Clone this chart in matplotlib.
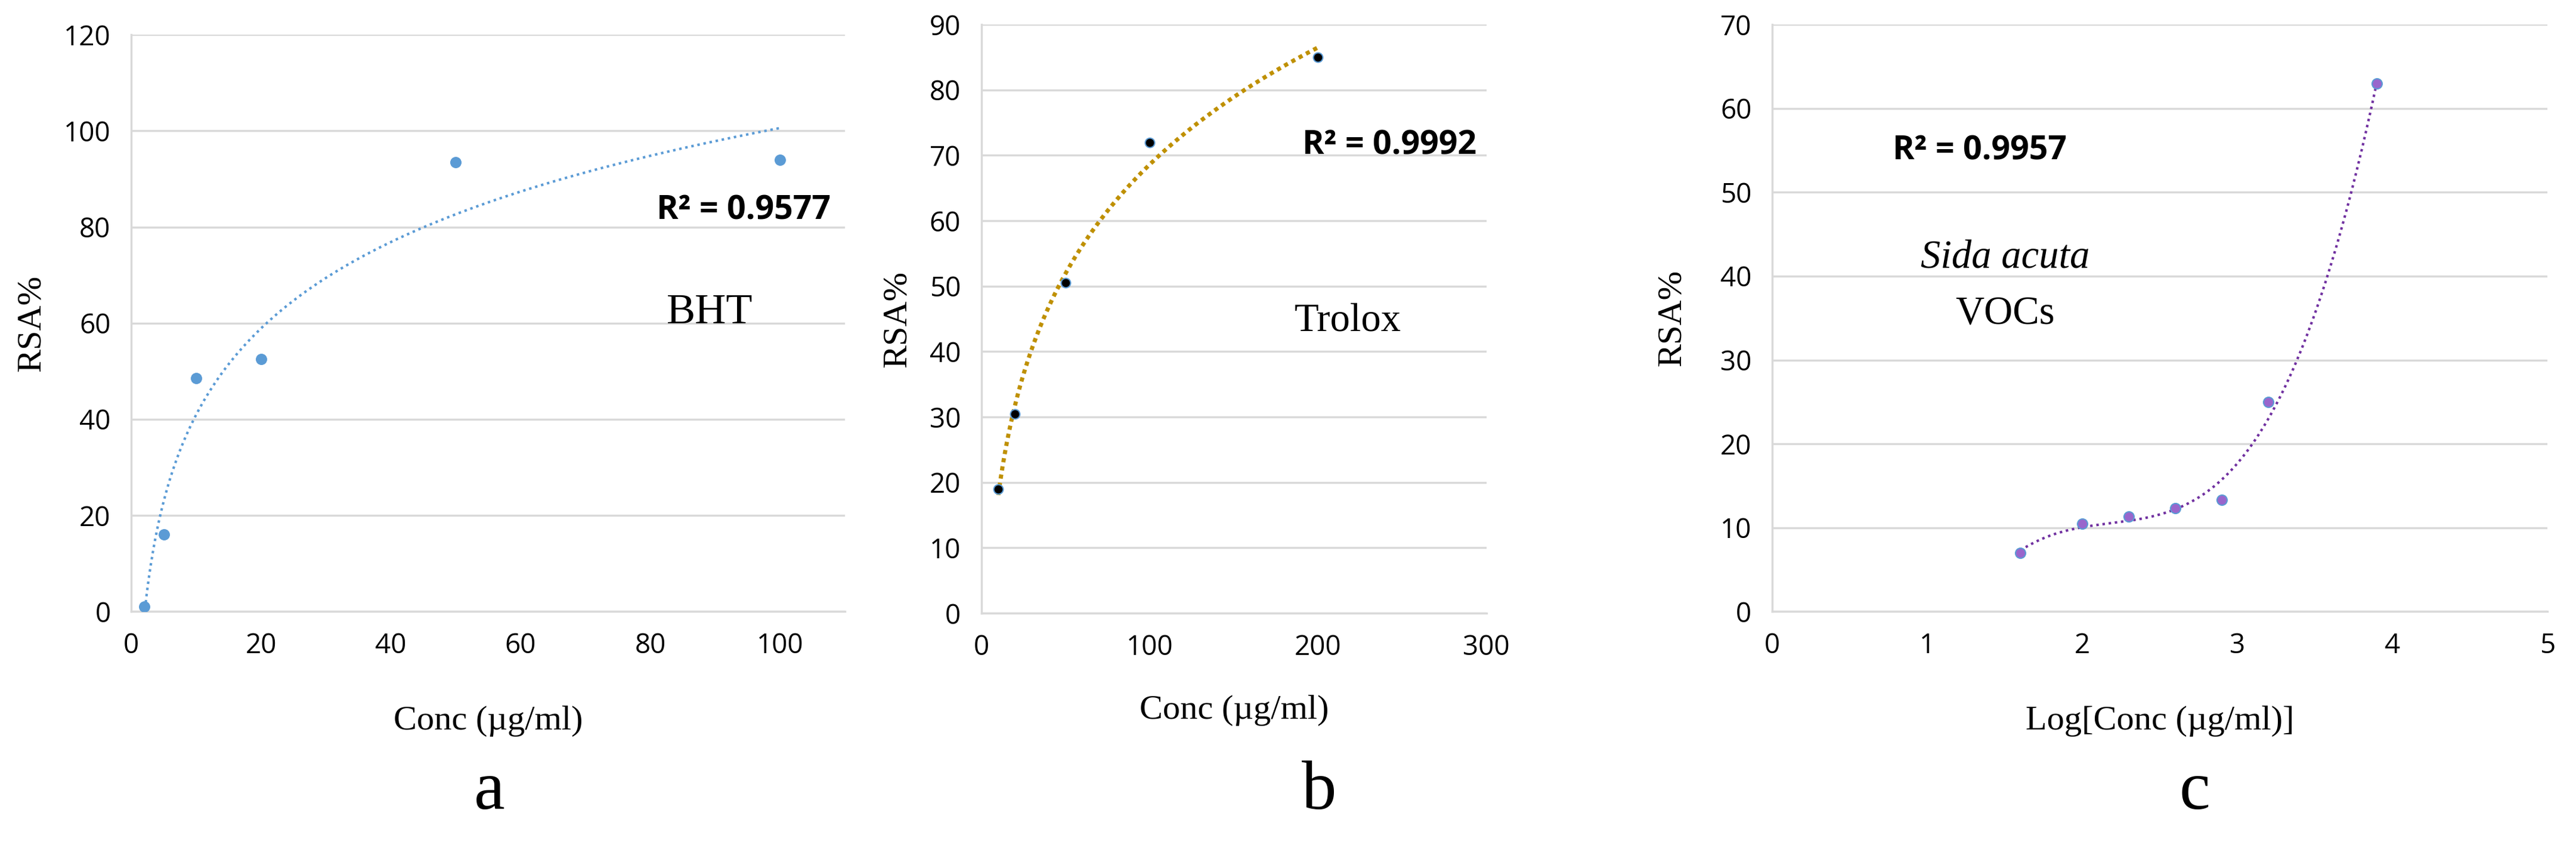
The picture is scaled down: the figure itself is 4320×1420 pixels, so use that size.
import numpy as np
import matplotlib
matplotlib.use("Agg")
import matplotlib.pyplot as plt

bht_x = [2, 5, 10, 20, 50, 100]
bht_y = [1, 16, 48.5, 52.5, 93.5, 94]
tro_x = [10, 20, 50, 100, 200]
tro_y = [19, 30.5, 50.5, 72, 85]
sida_x = [1.6, 2.0, 2.3, 2.6, 2.9, 3.2, 3.9]
sida_y = [7, 10.5, 11.3, 12.3, 13.3, 25, 63]

fig = plt.figure(figsize=(43.2, 14.2), dpi=100)
tickfont = "Open Sans"
serif = "Liberation Serif"
TS = 33

def style(ax, xlim, ylim, xt, yt):
    ax.set_xlim(*xlim); ax.set_ylim(*ylim)
    ax.set_xticks(xt); ax.set_yticks(yt)
    ax.grid(axis="y", color="#d9d9d9", lw=2.5)
    ax.set_axisbelow(True)
    for s in ["top", "right"]:
        ax.spines[s].set_visible(False)
    ax.spines["left"].set_color("#d9d9d9"); ax.spines["bottom"].set_color("#d9d9d9")
    ax.spines["left"].set_linewidth(2.5); ax.spines["bottom"].set_linewidth(2.5)
    ax.tick_params(length=0, pad=25, labelsize=TS)
    for l in ax.get_xticklabels() + ax.get_yticklabels():
        l.set_fontfamily(tickfont)

# a
ax = fig.add_axes([0.051, 0.278, 0.277, 0.681])
style(ax, (0, 110), (0, 120), range(0, 101, 20), range(0, 121, 20))
c = np.polyfit(np.log(bht_x), bht_y, 1)
xx = np.linspace(2, 100, 300)
ax.plot(xx, np.polyval(c, np.log(xx)), ls=(0, (1, 1.5)), color="#5B9BD5", lw=3)
ax.scatter(bht_x, bht_y, s=160, color="#5B9BD5", zorder=3)
ax.text(0.98, 0.68, "R² = 0.9577", transform=ax.transAxes, ha="right", fontsize=40, weight="bold", family=tickfont)
ax.text(0.75, 0.5, "BHT", transform=ax.transAxes, fontsize=52, family=serif)
ax.set_ylabel("RSA%", fontsize=42, family=serif, labelpad=20)
ax.set_xlabel("Conc (µg/ml)", fontsize=42, family=serif, labelpad=55)
fig.text(0.19, 0.045, "a", fontsize=84, family=serif, ha="center")

# b
ax = fig.add_axes([0.381, 0.276, 0.196, 0.695])
style(ax, (0, 300), (0, 90), range(0, 301, 100), range(0, 91, 10))
c = np.polyfit(np.log(tro_x), tro_y, 2)
xx = np.linspace(10, 200, 300)
ax.plot(xx, np.polyval(c, np.log(xx)), ls=(0, (1, 1)), color="#BF9000", lw=5)
ax.scatter(tro_x, tro_y, s=130, color="black", edgecolor="#5B9BD5", lw=1.5, zorder=3)
ax.text(0.98, 0.78, "R² = 0.9992", transform=ax.transAxes, ha="right", fontsize=40, weight="bold", family=tickfont)
ax.text(0.62, 0.48, "Trolox", transform=ax.transAxes, fontsize=48, family=serif)
ax.set_ylabel("RSA%", fontsize=42, family=serif, labelpad=20)
ax.set_xlabel("Conc (µg/ml)", fontsize=42, family=serif, labelpad=40)
fig.text(0.512, 0.045, "b", fontsize=84, family=serif, ha="center")

# c
ax = fig.add_axes([0.688, 0.278, 0.301, 0.693])
style(ax, (0, 5), (0, 70), range(0, 6), range(0, 71, 10))
c = np.polyfit(sida_x, sida_y, 3)
xx = np.linspace(1.6, 3.9, 300)
ax.plot(xx, np.polyval(c, xx), ls=(0, (1, 1.5)), color="#7030A0", lw=3)
ax.scatter(sida_x, sida_y, s=150, color="#9966CC", edgecolor="#5B9BD5", lw=1.5, zorder=3)
ax.text(0.155, 0.77, "R² = 0.9957", transform=ax.transAxes, fontsize=40, weight="bold", family=tickfont)
ax.text(0.3, 0.585, "Sida acuta", transform=ax.transAxes, ha="center", fontsize=48, family=serif, style="italic")
ax.text(0.3, 0.49, "VOCs", transform=ax.transAxes, ha="center", fontsize=48, family=serif)
ax.set_ylabel("RSA%", fontsize=42, family=serif, labelpad=40)
ax.set_xlabel("Log[Conc (µg/ml)]", fontsize=42, family=serif, labelpad=55)
fig.text(0.852, 0.045, "c", fontsize=84, family=serif, ha="center")

fig.savefig("out.png", dpi=100, facecolor="white")
